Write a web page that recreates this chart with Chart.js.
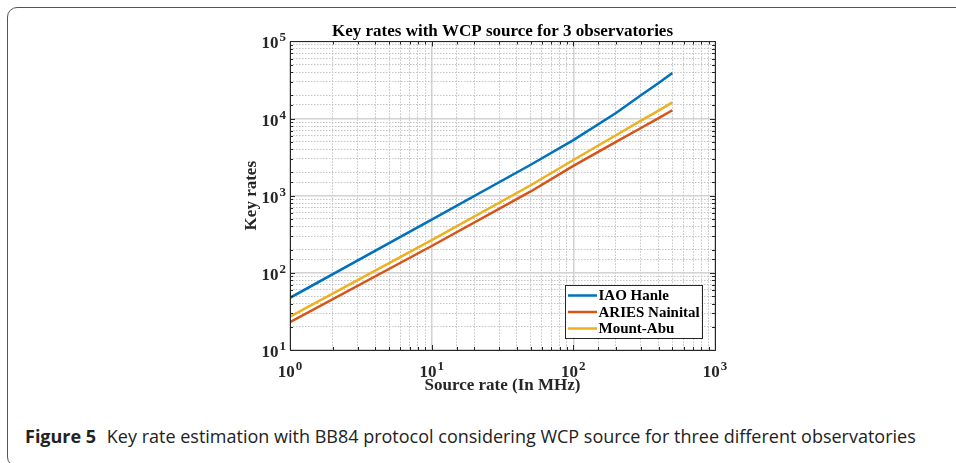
<!DOCTYPE html>
<html>
<head>
<meta charset="utf-8">
<script src="https://cdn.jsdelivr.net/npm/chart.js@4/dist/chart.umd.min.js"></script>
<style>
    html, body { margin: 0; padding: 0; background: #fff; overflow: hidden; }
    body { width: 956px; height: 463px; position: relative; }
    .frame {
        position: absolute; left: 7px; top: 7px; width: 1000px; height: 460px;
        border: 1.5px solid #555; border-radius: 10px; box-sizing: border-box;
    }
    .chart-box { position: absolute; left: 0; top: 0; width: 956px; height: 400px; }
    .caption {
        position: absolute; left: 25px; top: 424px; white-space: nowrap;
        font-family: "Open Sans", sans-serif; font-size: 18px; color: #222;
    }
    .caption b { font-weight: 700; margin-right: 6px; }
</style>
</head>
<body>
<div class="frame"></div>
<div class="chart-box"><canvas id="keyRateChart"></canvas></div>
<div class="caption" id="caption"><b>Figure 5</b> Key rate estimation with BB84 protocol considering WCP source for three different observatories</div>

<script>
// Data
const sourceRates = [1, 10, 50, 100, 200, 300, 400, 500];          // MHz
const iaoHanle = [47.5, 490, 2520, 5250, 11800, 20000, 28900, 39000];
const ariesNainital = [23, 223, 1135, 2440, 4980, 7550, 10150, 12800];
const mountAbu = [27, 266, 1365, 2900, 6080, 9380, 12700, 16200];

const seriesNames = ['IAO Hanle', 'ARIES Nainital', 'Mount-Abu'];
const seriesColors = ['#0072BD', '#D95319', '#EDB120'];

const xTickValues = [1, 10, 100, 1000];
const yTickValues = [10, 100, 1000, 10000, 100000];

const SERIF = '"Liberation Serif", "Times New Roman", serif';

function isDecade(v) {
    const l = Math.log10(v);
    return Math.abs(l - Math.round(l)) < 1e-9;
}

function toPoints(ys) {
    return sourceRates.map((x, i) => ({ x: x, y: ys[i] }));
}

// draws "10" with a raised exponent, anchored at x (align 'center' or 'right')
function drawPower(ctx, exp, x, baseline, align) {
    const baseFont = 'bold 17px ' + SERIF;
    const expFont = 'bold 13px ' + SERIF;
    ctx.font = baseFont;
    const wBase = ctx.measureText('10').width;
    ctx.font = expFont;
    const wExp = ctx.measureText(String(exp)).width;
    const total = wBase + wExp + 1;
    let left = align === 'right' ? x - total : x - total / 2;
    ctx.textAlign = 'left';
    ctx.textBaseline = 'alphabetic';
    ctx.font = baseFont;
    ctx.fillText('10', left, baseline);
    ctx.font = expFont;
    ctx.fillText(String(exp), left + wBase + 1, baseline - 7);
}

const matlabAxes = {
    id: 'matlabAxes',
    afterDraw(chart) {
        const { ctx, chartArea: a, scales: { x, y } } = chart;
        ctx.save();
        ctx.strokeStyle = '#262626';
        ctx.lineWidth = 1;

        // inward tick marks on all four sides
        ctx.beginPath();
        x.ticks.forEach(t => {
            const px = Math.round(x.getPixelForValue(t.value)) + 0.5;
            const len = isDecade(t.value) ? 5 : 3;
            ctx.moveTo(px, a.bottom); ctx.lineTo(px, a.bottom - len);
            ctx.moveTo(px, a.top); ctx.lineTo(px, a.top + len);
        });
        y.ticks.forEach(t => {
            const py = Math.round(y.getPixelForValue(t.value)) + 0.5;
            const len = isDecade(t.value) ? 5 : 3;
            ctx.moveTo(a.left, py); ctx.lineTo(a.left + len, py);
            ctx.moveTo(a.right, py); ctx.lineTo(a.right - len, py);
        });
        ctx.stroke();

        // axes box
        ctx.strokeRect(Math.round(a.left) + 0.5, Math.round(a.top) + 0.5,
            Math.round(a.right - a.left), Math.round(a.bottom - a.top));

        // tick labels
        ctx.fillStyle = '#262626';
        xTickValues.forEach(v => {
            drawPower(ctx, Math.round(Math.log10(v)), x.getPixelForValue(v), a.bottom + 27, 'center');
        });
        yTickValues.forEach(v => {
            drawPower(ctx, Math.round(Math.log10(v)), a.left - 4, y.getPixelForValue(v) + 7, 'right');
        });

        // legend box in the lower right corner
        const boxW = 137, boxH = 53;
        const bx = a.right - 13.5 - boxW;
        const by = a.bottom - 12.5 - boxH;
        ctx.fillStyle = '#fff';
        ctx.fillRect(bx, by, boxW, boxH);
        ctx.strokeStyle = '#262626';
        ctx.strokeRect(Math.round(bx) + 0.5, Math.round(by) + 0.5, boxW, boxH);
        chart.data.datasets.forEach((ds, i) => {
            const rowY = by + 11 + i * 16.5;
            ctx.strokeStyle = ds.borderColor;
            ctx.lineWidth = 2.5;
            ctx.beginPath();
            ctx.moveTo(bx + 3.5, rowY);
            ctx.lineTo(bx + 32.5, rowY);
            ctx.stroke();
            ctx.fillStyle = '#000';
            ctx.font = 'bold 15px ' + SERIF;
            ctx.textAlign = 'left';
            ctx.textBaseline = 'middle';
            ctx.fillText(ds.label, bx + 34, rowY + 1);
        });
        ctx.restore();
    }
};

const gridOptions = {
    color: ctx => (ctx.tick && isDecade(ctx.tick.value)) ? '#d2d2d2' : '#c4c4c4',
    lineWidth: ctx => (ctx.tick && isDecade(ctx.tick.value)) ? 1.5 : 1,
    drawTicks: false
};
const borderOptions = {
    display: false,
    dash: ctx => (ctx.tick && !isDecade(ctx.tick.value)) ? [1.5, 1.5] : []
};

new Chart(document.getElementById('keyRateChart'), {
    type: 'line',
    data: {
        datasets: [iaoHanle, ariesNainital, mountAbu].map((ys, i) => ({
            label: seriesNames[i],
            data: toPoints(ys),
            borderColor: seriesColors[i],
            backgroundColor: seriesColors[i],
            borderWidth: 2.5,
            pointRadius: 0,
            tension: 0,
            fill: false
        }))
    },
    options: {
        responsive: true,
        maintainAspectRatio: false,
        animation: false,
        layout: { padding: { left: 241, right: 241, top: 21, bottom: 4 } },
        plugins: {
            legend: { display: false },
            tooltip: { enabled: false },
            title: {
                display: true,
                fullSize: false,
                text: 'Key rates with WCP source for 3 observatories',
                color: '#000',
                font: { family: SERIF, size: 17, weight: 'bold' },
                padding: { top: 0, bottom: 0 }
            }
        },
        scales: {
            x: {
                type: 'logarithmic',
                min: 1,
                max: 1000,
                grid: gridOptions,
                border: borderOptions,
                ticks: { display: false },
                title: {
                    display: true,
                    text: 'Source rate (In MHz)',
                    color: '#262626',
                    font: { family: SERIF, size: 17, weight: 'bold' },
                    padding: { top: 25.6, bottom: 0 }
                }
            },
            y: {
                type: 'logarithmic',
                min: 10,
                max: 100000,
                grid: gridOptions,
                border: borderOptions,
                ticks: { display: false },
                title: {
                    display: true,
                    text: 'Key rates',
                    color: '#262626',
                    font: { family: SERIF, size: 17, weight: 'bold' },
                    padding: { top: 0, bottom: 28.6 }
                }
            }
        }
    },
    plugins: [matlabAxes]
});
</script>
</body>
</html>
